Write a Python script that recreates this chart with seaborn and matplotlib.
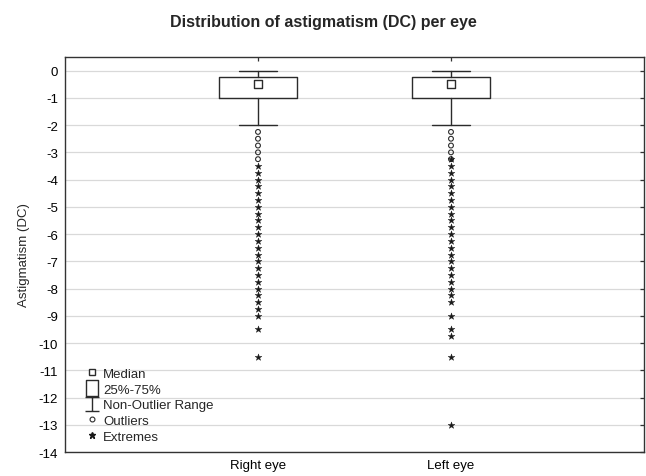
import numpy as np
import pandas as pd
import matplotlib
matplotlib.use("Agg")
import matplotlib.pyplot as plt
from matplotlib.lines import Line2D
from matplotlib.path import Path
import seaborn as sns

# ---- summary statistics per eye (dioptres of cylinder) ----
eyes = ["Right eye", "Left eye"]
medians = [-0.5, -0.5]
q1 = [-1.0, -1.0]
q3 = [-0.25, -0.25]
whisker_low = [-2.0, -2.0]
whisker_high = [0.0, 0.0]

# ---- individual outlying observations ----
right_outliers = [-2.25, -2.5, -2.75, -3.0, -3.25]
right_extremes = [-3.5, -3.75, -4.0, -4.25, -4.5, -4.75, -5.0, -5.25, -5.5,
                  -5.75, -6.0, -6.25, -6.5, -6.75, -7.0, -7.25, -7.5, -7.75,
                  -8.0, -8.25, -8.5, -8.75, -9.0, -9.5, -10.5]
left_outliers = [-2.25, -2.5, -2.75, -3.0, -3.25]
left_extremes = [-3.25, -3.5, -3.75, -4.0, -4.25, -4.5, -4.75, -5.0, -5.25,
                 -5.5, -5.75, -6.0, -6.25, -6.5, -6.75, -7.0, -7.25, -7.5,
                 -7.75, -8.0, -8.25, -8.5, -9.0, -9.5, -9.75, -10.5, -13.0]

y_ticks = list(range(0, -15, -1))

sns.set_style("white")
plt.rcParams["font.family"] = ["Liberation Sans", "DejaVu Sans"]

fig = plt.figure(figsize=(6.46, 4.77), dpi=100)
ax = fig.add_axes([0.1006, 0.0503, 0.8963, 0.8281])

positions = [1, 2]
line_col = "#2b2b2b"

stats = []
for i, name in enumerate(eyes):
    stats.append(dict(label=name, med=medians[i], q1=q1[i], q3=q3[i],
                      whislo=whisker_low[i], whishi=whisker_high[i], fliers=[]))

ax.bxp(stats, positions=positions, widths=0.40, showfliers=False,
       boxprops=dict(color=line_col, linewidth=1.0),
       whiskerprops=dict(color=line_col, linewidth=1.0),
       capprops=dict(color=line_col, linewidth=1.0),
       medianprops=dict(linewidth=0), capwidths=0.20, zorder=3)

# median shown as an open square
med_df = pd.DataFrame({"pos": positions, "value": medians})
sns.scatterplot(data=med_df, x="pos", y="value", marker="s", s=30,
                facecolor="white", edgecolor=line_col, linewidth=1.0,
                ax=ax, zorder=4)

out_df = pd.DataFrame({
    "pos": [1] * len(right_outliers) + [2] * len(left_outliers),
    "value": right_outliers + left_outliers,
})
ext_df = pd.DataFrame({
    "pos": [1] * len(right_extremes) + [2] * len(left_extremes),
    "value": right_extremes + left_extremes,
})
sns.scatterplot(data=out_df, x="pos", y="value", marker="o", s=12,
                facecolor="none", edgecolor=line_col, linewidth=0.8,
                ax=ax, zorder=4)
sns.scatterplot(data=ext_df, x="pos", y="value", marker="*", s=26,
                color="#1a1a1a", edgecolor="#1a1a1a", linewidth=0.3,
                ax=ax, zorder=4)

ax.set_xlim(0, 3)
ax.set_ylim(-14, 0.5)
ax.set_xticks(positions)
ax.set_xticklabels(eyes)
ax.set_yticks(y_ticks)
ax.set_yticklabels([str(t) for t in y_ticks])
ax.set_xlabel("")
ax.set_ylabel("Astigmatism (DC)", fontsize=9.5, labelpad=6)

ax.yaxis.grid(True, color="#d9d9d9", linewidth=0.9)
ax.xaxis.grid(False)
ax.set_axisbelow(True)
ax.tick_params(axis="both", direction="in", length=3, width=0.9,
               colors="#333333", labelcolor="black", labelsize=9.5,
               top=True, right=True, pad=5)
for sp in ax.spines.values():
    sp.set_color("#333333")
    sp.set_linewidth(1.0)

# legend with custom glyphs
ibeam = Path([(-0.5, 0.5), (0.5, 0.5), (0, 0.5), (0, -0.5), (-0.5, -0.5), (0.5, -0.5)],
             [Path.MOVETO, Path.LINETO, Path.MOVETO, Path.LINETO, Path.MOVETO, Path.LINETO])
rect = Path([(-0.35, -0.5), (0.35, -0.5), (0.35, 0.5), (-0.35, 0.5), (-0.35, -0.5)],
            [Path.MOVETO, Path.LINETO, Path.LINETO, Path.LINETO, Path.CLOSEPOLY])
handles = [
    Line2D([], [], linestyle="none", marker="s", markersize=5,
           markerfacecolor="white", markeredgecolor=line_col, markeredgewidth=1.0),
    Line2D([], [], linestyle="none", marker=rect, markersize=12,
           markerfacecolor="none", markeredgecolor=line_col, markeredgewidth=1.0),
    Line2D([], [], linestyle="none", marker=ibeam, markersize=10,
           markerfacecolor="none", markeredgecolor=line_col, markeredgewidth=1.0),
    Line2D([], [], linestyle="none", marker="o", markersize=3.5,
           markerfacecolor="none", markeredgecolor=line_col, markeredgewidth=0.8),
    Line2D([], [], linestyle="none", marker="*", markersize=5,
           markerfacecolor="#1a1a1a", markeredgecolor="#1a1a1a"),
]
labels = ["Median", "25%-75%", "Non-Outlier Range", "Outliers", "Extremes"]
ax.legend(handles, labels, loc="lower left", bbox_to_anchor=(0.02, 0.0),
          frameon=False, fontsize=9.5, handlelength=1.0, handletextpad=0.3,
          labelspacing=0.26, borderaxespad=0.3)

fig.text(0.5, 1 - 22 / 477, "Distribution of astigmatism (DC) per eye",
         ha="center", va="center", fontsize=11.5, fontweight="bold")

fig.savefig("out.png", dpi=100)
